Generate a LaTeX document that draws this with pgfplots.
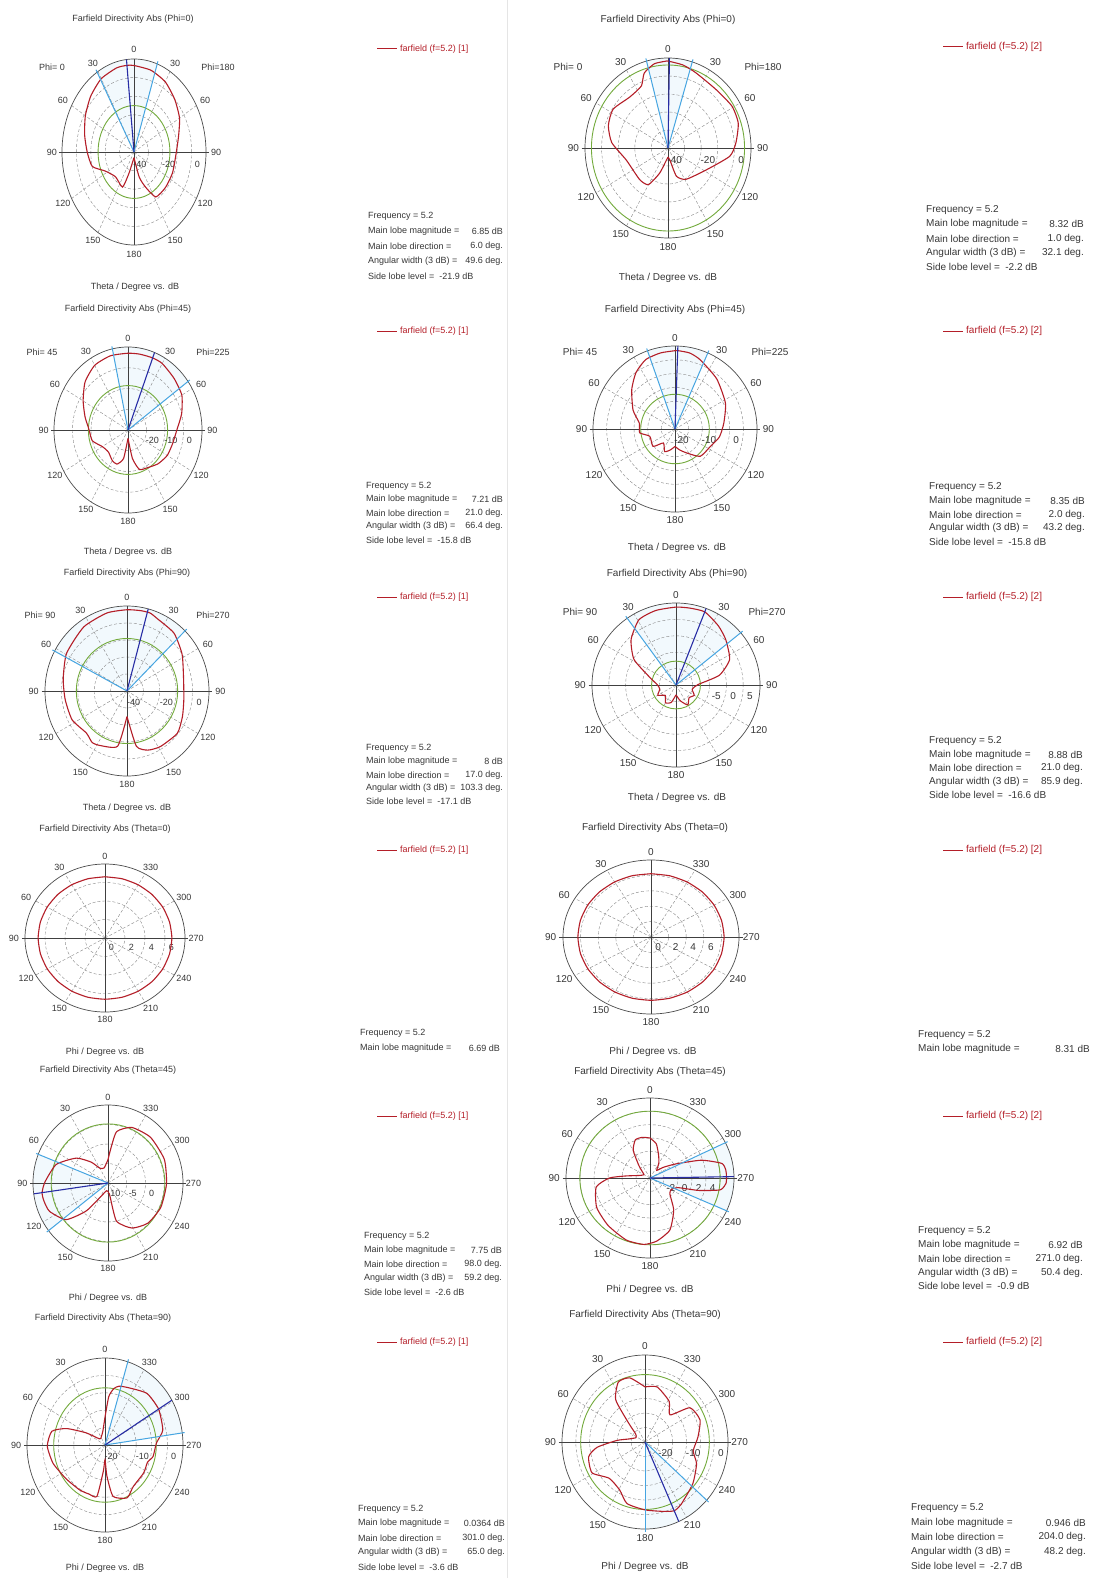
\documentclass[border=0pt]{standalone}
\usepackage{pgfplots}
\pgfplotsset{compat=1.18}
\usepackage{pgfplotstable}
\usepackage{fontspec}
\setmainfont{Liberation Sans}

\definecolor{cred}{RGB}{180,30,40}
\definecolor{cgreen}{RGB}{115,170,60}
\definecolor{cdblue}{RGB}{40,45,165}
\definecolor{clblue}{RGB}{70,165,225}
\definecolor{cgrid}{RGB}{135,135,135}
\definecolor{ctext}{RGB}{55,55,55}

% ---------------- data: a = angle (theta signed, + on left side / phi), d = dB
\pgfplotstableread{
a d
-180 -37
-165 -26
-157 -19.5
-148 -11.5
-131 -11
-113 -11
-95 -11
-75 -8
-60 -3.5
-45 0
-30 3.5
-15 5.5
0 6.5
6 6.85
15 6.8
30 5.5
45 2.5
60 -1
75 -4.5
90 -7.5
105 -10
117 -17.5
136 -21.5
157 -19.5
163 -28
180 -37
}\tA
\pgfplotstableread{
a d
-180 -35
-170 -33
-162 -23.5
-148 -19.5
-118 -14
-97 -2.5
-86 1
-72 4.5
-59 5
-42 3.5
-22 5
-11 7
0 8.3
1 8.32
10 7.5
19 4
25 -2
39 -3.5
57 -0.5
71 -2
85 -6
105 -14
136 -15.5
150 -16.5
160 -25
170 -32.5
180 -35
}\tB
\pgfplotstableread{
a d
-180 -26
-170 -16
-162 -10
-150 -9
-135 -7
-120 -5.5
-105 -5
-90 -3.6
-75 0
-60 3.6
-45 5.2
-30 7.0
-21 7.21
-10 7.1
0 7.0
15 7.0
30 6
45 2.8
60 -2
75 -6
90 -9
105 -10
120 -14
135 -15
150 -13
160 -12.5
170 -16
180 -26
}\tC
\pgfplotstableread{
a d
-180 -13.7
-167 -12.2
-154 -10.4
-137 -6.5
-116 -5.6
-100 -3.5
-83 -2
-63 0.7
-40 3.7
-20 6.7
-11 8
-2 8.35
0 8.3
11 8
23 7.3
35 4.9
48 1.3
66 -3.2
81 -6.8
96 -7
106 -10.4
128 -9.8
140 -13.4
155 -11
167 -12.2
180 -13.7
}\tD
\pgfplotstableread{
a d
-180 -25
-170 -7
-160 -3
-148 -1.5
-129 -0.5
-114 -3
-98 -5
-76 -4.5
-57 0
-40 4.5
-23 6.5
-17 8
-10 8
0 7.8
15 7.5
35 6
59 3
80 -0.5
98 -2
117 -2.5
135 -5
145 -3
153 -4
170 -7
180 -25
}\tE
\pgfplotstableread{
a d
-180 -12
-165 -10
-150 -8
-135 -9.5
-120 -8.75
-105 -10
-89 -8.5
-77 -1.75
-64 2.75
-47 5.25
-35 7
-21 8.88
-10 8.8
0 8.75
15 8.5
29 7.75
44 4.25
58 -0.25
72 -6.5
90 -9.5
105 -10
120 -8.75
135 -10.5
150 -8.75
165 -9.5
180 -12
}\tF
\pgfplotstableread{
a d
0 6.62
15 6.63
30 6.65
45 6.67
60 6.68
75 6.69
90 6.69
105 6.68
120 6.67
135 6.65
150 6.64
165 6.63
180 6.62
195 6.63
210 6.64
225 6.66
240 6.67
255 6.68
270 6.69
285 6.68
300 6.67
315 6.65
330 6.64
345 6.63
360 6.62
}\tG
\pgfplotstableread{
a d
0 8.22
15 8.24
30 8.26
45 8.28
60 8.30
75 8.31
90 8.31
105 8.30
120 8.28
135 8.26
150 8.24
165 8.23
180 8.22
195 8.23
210 8.25
225 8.27
240 8.29
255 8.30
270 8.31
285 8.30
300 8.28
315 8.26
330 8.24
345 8.23
360 8.22
}\tH
\pgfplotstableread{
a d
0 -4
15 -6
30 -5.6
40 -3
53 0.6
71 4.6
89 6.8
98 7.75
105 7.7
115 7.2
130 4.6
141 -0.8
155 -6.8
170 -8
188 -7
193 0
209 3.2
226 4.8
246 5.4
269 5.6
292 6.2
316 6.3
336 5.6
350 3.4
355 -1
360 -4
}\tI
\pgfplotstableread{
a d
0 2.0
10 2.2
20 2.1
30 0.8
40 -1.5
50 -2.6
60 -3
75 -2.5
85 -0.5
90 1.8
100 3.8
120 4.8
140 5.3
160 5.9
175 6.0
186 5.5
200 4.3
215 1.9
230 -0.3
240 -0.5
250 0.2
255 3.2
260 6.2
266 6.9
271 6.92
276 6.9
282 6.5
290 3.8
300 0.2
310 -1.5
320 -2.5
330 -1.5
340 -0.4
350 1.2
360 2.0
}\tJ
\pgfplotstableread{
a d
0 -12
10 -16
20 -17
30 -17.5
45 -17.5
60 -13
69 -6.8
77 -2.5
91 -1.5
107 -2.5
120 -3.75
129 -4.25
148 -4.75
160 -5
170 -5
176 -12.5
180 -15.75
184 -11
190 -5
205 -3.25
217 -5
237 -5.25
250 -5.5
258 -4.25
272 -3.5
283 -1
301 0.0364
318 0
337 -2
345 -2.5
350 -3.5
355 -6
360 -12
}\tK
\pgfplotstableread{
a d
0 -6
14 -2.2
25 -2.2
36 -7
42 -16
50 -20.5
65 -21.4
80 -19
87 -14.8
96 -7.6
104 -4
119 -3.1
134 -7
151 -6.1
163 -2.8
180 -1.6
196 -0.1
204 0.946
211 0.2
230 -2.5
248 -4.9
260 -7.3
275 -5.8
291 -3.7
306 -4.9
316 -12
328 -8.5
347 -5.5
360 -6
}\tL

\newcommand\cstX{-max(0,(\thisrow{d}-(\RMIN))/(\RMAX-(\RMIN)))*sin(\thisrow{a})}
\newcommand\cstY{max(0,(\thisrow{d}-(\RMIN))/(\RMAX-(\RMIN)))*cos(\thisrow{a})}

\def\THLAB{0/0,30/30,60/60,90/90,120/120,150/150,180/180,-30/30,-60/60,-90/90,-120/120,-150/150}
\def\PHLAB{0/0,30/30,60/60,90/90,120/120,150/150,180/180,210/210,240/240,270/270,300/300,330/330}
\def\curfont{\fontsize{9}{10.5}\selectfont}

% grid, shading, green level, labels (plain decoration around the axis)
\newcommand\cstgrid{%
 \begin{scope}[shift={(\CX,-\CY)}]
  \ifx\LA\empty\else
   \fill[clblue!7] (0,0) -- plot[domain=\LA:\LB,samples=25] ({-\RX*sin(\x)},{\RY*cos(\x)}) -- cycle;
  \fi
  \foreach \v in \RINGS {\pgfmathsetmacro\rr{(\v-(\RMIN))/(\RMAX-(\RMIN))}
    \draw[cgrid,densely dashed,line width=0.4pt] (0,0) ellipse [x radius={\rr*\RX}, y radius={\rr*\RY}];}
  \foreach \t in {30,60,120,150,210,240,300,330}
    \draw[cgrid,densely dashed,line width=0.4pt] (0,0) -- ({\RX*cos(\t)},{\RY*sin(\t)});
  \draw[black!75,line width=0.6pt] ({-1.04*\RX},0) -- ({1.04*\RX},0);
  \draw[black!75,line width=0.6pt] (0,{-\RY}) -- (0,{\RY});
  \draw[black!70,line width=0.7pt] (0,0) ellipse [x radius=\RX, y radius=\RY];
  \ifx\GDB\empty\else
   \pgfmathsetmacro\rr{(\GDB-(\RMIN))/(\RMAX-(\RMIN))}
   \draw[cgreen,line width=0.9pt] (0,0) ellipse [x radius={\rr*\RX}, y radius={\rr*\RY}];
  \fi
  \foreach \t/\l in \ALAB \node[lab] at ({-1.14*\RX*sin(\t)},{1.1*\RY*cos(\t)}) {\l};
  \foreach \v in \RLAB {\pgfmathsetmacro\rr{(\v-(\RMIN))/(\RMAX-(\RMIN))}
    \node[lab] at ({(\rr+0.08)*\RX},{-0.13*\RY}) {\v};}
 \end{scope}}

% data axis
\newcommand\cstdata[1]{%
 \pgfmathsetmacro\AW{2.5*\RX}\pgfmathsetmacro\AH{2.5*\RY}%
 \begin{axis}[at={(\CX pt,-\CY pt)},anchor=center,scale only axis,width=\AW pt,height=\AH pt,
   xmin=-1.25,xmax=1.25,ymin=-1.25,ymax=1.25,axis lines=none,clip=false]
  \addplot[cred,line width=1.1pt,smooth,tension=0.35] table[x expr=\cstX,y expr=\cstY]{#1};
  \ifx\MAIN\empty\else
   \pgfmathsetmacro\mx{-sin(\MAIN)}\pgfmathsetmacro\my{cos(\MAIN)}%
   \pgfmathsetmacro\ax{-1.03*sin(\LA)}\pgfmathsetmacro\ay{1.03*cos(\LA)}%
   \pgfmathsetmacro\bx{-1.03*sin(\LB)}\pgfmathsetmacro\by{1.03*cos(\LB)}%
   \edef\tmp{\noexpand\addplot[clblue,line width=1pt] coordinates {(0,0) (\ax,\ay)};
     \noexpand\addplot[clblue,line width=1pt] coordinates {(0,0) (\bx,\by)};
     \noexpand\addplot[cdblue,line width=1.1pt] coordinates {(0,0) (\mx,\my)};}%
   \tmp
  \fi
 \end{axis}}

\newcommand\legendat[3]{%
 \draw[cred,line width=1pt] (#1,-#2) -- ({#1+20},-#2);
 \node[lab,text=cred,anchor=west] at ({#1+23},-#2) {#3};}

\newcommand\info[8]{%
 \node[lab,anchor=west] at (#1,{-(#3)}) {Frequency = 5.2};
 \node[lab,anchor=west] at (#1,{-(#3+#4)}) {Main lobe magnitude =};
 \node[lab,anchor=east] at (#2,{-(#3+#4)}) {#5 dB};
 \node[lab,anchor=west] at (#1,{-(#3+2*#4)}) {Main lobe direction =};
 \node[lab,anchor=east] at (#2,{-(#3+2*#4)}) {#6 deg.};
 \node[lab,anchor=west] at (#1,{-(#3+3*#4)}) {Angular width (3 dB) =};
 \node[lab,anchor=east] at (#2,{-(#3+3*#4)}) {#7 deg.};
 \node[lab,anchor=west] at (#1,{-(#3+4*#4)}) {Side lobe level = \ #8 dB};}

\newcommand\infotwo[5]{%
 \node[lab,anchor=west] at (#1,{-(#3)}) {Frequency = 5.2};
 \node[lab,anchor=west] at (#1,{-(#3+#4)}) {Main lobe magnitude =};
 \node[lab,anchor=east] at (#2,{-(#3+#4)}) {#5 dB};}

\begin{document}
\begin{tikzpicture}[x=1pt,y=1pt,lab/.style={font=\curfont,text=ctext,inner sep=0pt}]
\fill[white] (0,0) rectangle (1095,-1578);
\path[use as bounding box] (0,0) rectangle (1095,-1578);
\draw[black!10,line width=0.6pt] (507,0) -- (507,-1578);

% ======================= LEFT COLUMN (font 9pt)
\def\curfont{\fontsize{9}{10.5}\selectfont}
% ---- Row 1 left: Phi=0 [1]
\def\CX{134}\def\CY{152}\def\RX{72}\def\RY{93}\def\RMIN{-40}\def\RMAX{10}
\def\RINGS{-30,-20,-10,0}\def\RLAB{-40,-20,0}\def\GDB{-15.05}
\def\MAIN{6}\def\LA{30.8}\def\LB{-18.8}\let\ALAB\THLAB
\cstgrid\cstdata{\tA}
\node[lab] at (133,-19) {Farfield Directivity Abs (Phi=0)};
\node[lab] at (52,-67) {Phi= 0};\node[lab] at (218,-67) {Phi=180};
\node[lab] at (135,-287) {Theta / Degree vs. dB};
\legendat{377}{49}{farfield (f=5.2) [1]}
\info{368}{503}{216}{15}{6.85}{6.0}{49.6}{-21.9}

% ---- Row 2 left: Phi=45 [1]
\def\CX{128}\def\CY{430}\def\RX{74}\def\RY{83}\def\RMIN{-30}\def\RMAX{10}
\def\RINGS{-20,-10,0}\def\RLAB{-20,-10,0}\def\GDB{-8.59}
\def\MAIN{-21}\def\LA{12.2}\def\LB{-54.2}\let\ALAB\THLAB
\cstgrid\cstdata{\tC}
\node[lab] at (128,-309) {Farfield Directivity Abs (Phi=45)};
\node[lab] at (42,-352) {Phi= 45};\node[lab] at (213,-352) {Phi=225};
\node[lab] at (128,-552) {Theta / Degree vs. dB};
\legendat{377}{331}{farfield (f=5.2) [1]}
\info{366}{503}{486}{13.5}{7.21}{21.0}{66.4}{-15.8}

% ---- Row 3 left: Phi=90 [1]
\def\CX{127}\def\CY{691}\def\RX{82}\def\RY{85}\def\RMIN{-40}\def\RMAX{10}
\def\RINGS{-30,-20,-10,0}\def\RLAB{-40,-20,0}\def\GDB{-9.1}
\def\MAIN{-15}\def\LA{62}\def\LB{-45}\let\ALAB\THLAB
\cstgrid\cstdata{\tE}
\node[lab] at (127,-573) {Farfield Directivity Abs (Phi=90)};
\node[lab] at (40,-615) {Phi= 90};\node[lab] at (213,-615) {Phi=270};
\node[lab] at (127,-808) {Theta / Degree vs. dB};
\legendat{377}{597}{farfield (f=5.2) [1]}
\info{366}{503}{748}{13.4}{8}{17.0}{103.3}{-17.1}

% ---- Row 4 left: Theta=0 [1]
\def\CX{105}\def\CY{938}\def\RX{80}\def\RY{74}\def\RMIN{0}\def\RMAX{8}
\def\RINGS{2,4,6}\def\RLAB{0,2,4,6}\def\GDB{}
\def\MAIN{}\def\LA{}\def\LB{}\let\ALAB\PHLAB
\cstgrid\cstdata{\tG}
\node[lab] at (105,-829) {Farfield Directivity Abs (Theta=0)};
\node[lab] at (105,-1052) {Phi / Degree vs. dB};
\legendat{377}{850}{farfield (f=5.2) [1]}
\infotwo{360}{500}{1033}{15.5}{6.69}

% ---- Row 5 left: Theta=45 [1]
\def\CX{108}\def\CY{1183}\def\RX{75}\def\RY{78}\def\RMIN{-10}\def\RMAX{10}
\def\RINGS{-5,0,5}\def\RLAB{-10,-5,0}\def\GDB{5.15}
\def\MAIN{98}\def\LA{68.4}\def\LB{127.6}\let\ALAB\PHLAB
\cstgrid\cstdata{\tI}
\node[lab] at (108,-1070) {Farfield Directivity Abs (Theta=45)};
\node[lab] at (108,-1298) {Phi / Degree vs. dB};
\legendat{377}{1116}{farfield (f=5.2) [1]}
\info{364}{502}{1236}{14}{7.75}{98.0}{59.2}{-2.6}

% ---- Row 6 left: Theta=90 [1]
\def\CX{105}\def\CY{1445}\def\RX{78}\def\RY{87}\def\RMIN{-20}\def\RMAX{5}
\def\RINGS{-15,-10,-5,0}\def\RLAB{-20,-10,0}\def\GDB{-3.56}
\def\MAIN{301}\def\LA{278}\def\LB{343}\let\ALAB\PHLAB
\cstgrid\cstdata{\tK}
\node[lab] at (103,-1318) {Farfield Directivity Abs (Theta=90)};
\node[lab] at (105,-1568) {Phi / Degree vs. dB};
\legendat{377}{1342}{farfield (f=5.2) [1]}
\info{358}{505}{1509}{14.5}{0.0364}{301.0}{65.0}{-3.6}

% ======================= RIGHT COLUMN (font 10pt)
\def\curfont{\fontsize{10}{11.5}\selectfont}
% ---- Row 1 right: Phi=0 [2]
\def\CX{668}\def\CY{148}\def\RX{83}\def\RY{90}\def\RMIN{-40}\def\RMAX{10}
\def\RINGS{-30,-20,-10,0}\def\RLAB{-40,-20,0}\def\GDB{6.12}
\def\MAIN{-1}\def\LA{15}\def\LB{-17}\let\ALAB\THLAB
\cstgrid\cstdata{\tB}
\node[lab] at (668,-20) {Farfield Directivity Abs (Phi=0)};
\node[lab] at (568,-67) {Phi= 0};\node[lab] at (763,-67) {Phi=180};
\node[lab] at (668,-278) {Theta / Degree vs. dB};
\legendat{943}{47}{farfield (f=5.2) [2]}
\info{926}{1084}{210}{14.3}{8.32}{1.0}{32.1}{-2.2}

% ---- Row 2 right: Phi=45 [2]
\def\CX{675}\def\CY{429}\def\RX{82}\def\RY{83}\def\RMIN{-20}\def\RMAX{10}
\def\RINGS{-15,-10,-5,0,5}\def\RLAB{-20,-10,0}\def\GDB{-7.45}
\def\MAIN{-2}\def\LA{19.6}\def\LB{-23.6}\let\ALAB\THLAB
\cstgrid\cstdata{\tD}
\node[lab] at (675,-310) {Farfield Directivity Abs (Phi=45)};
\node[lab] at (580,-352) {Phi= 45};\node[lab] at (770,-352) {Phi=225};
\node[lab] at (677,-548) {Theta / Degree vs. dB};
\legendat{943}{331}{farfield (f=5.2) [2]}
\info{929}{1085}{487}{13.8}{8.35}{2.0}{43.2}{-15.8}

% ---- Row 3 right: Phi=90 [2]
\def\CX{676}\def\CY{685}\def\RX{84}\def\RY{82}\def\RMIN{-15}\def\RMAX{10}
\def\RINGS{-10,-5,0,5}\def\RLAB{-5,0,5}\def\GDB{-7.72}
\def\MAIN{-21}\def\LA{35.5}\def\LB{-50.4}\let\ALAB\THLAB
\cstgrid\cstdata{\tF}
\node[lab] at (677,-574) {Farfield Directivity Abs (Phi=90)};
\node[lab] at (580,-612) {Phi= 90};\node[lab] at (767,-612) {Phi=270};
\node[lab] at (677,-798) {Theta / Degree vs. dB};
\legendat{943}{597}{farfield (f=5.2) [2]}
\info{929}{1083}{741}{13.6}{8.88}{21.0}{85.9}{-16.6}

% ---- Row 4 right: Theta=0 [2]
\def\CX{651}\def\CY{937}\def\RX{88}\def\RY{77}\def\RMIN{0}\def\RMAX{10}
\def\RINGS{2,4,6,8}\def\RLAB{0,2,4,6}\def\GDB{}
\def\MAIN{}\def\LA{}\def\LB{}\let\ALAB\PHLAB
\cstgrid\cstdata{\tH}
\node[lab] at (655,-828) {Farfield Directivity Abs (Theta=0)};
\node[lab] at (653,-1052) {Phi / Degree vs. dB};
\legendat{943}{850}{farfield (f=5.2) [2]}
\infotwo{918}{1090}{1035}{14}{8.31}

% ---- Row 5 right: Theta=45 [2]
\def\CX{650}\def\CY{1178}\def\RX{84}\def\RY{80}\def\RMIN{-4}\def\RMAX{8}
\def\RINGS{-2,0,2,4,6}\def\RLAB{-2,0,2,4}\def\GDB{6.02}
\def\MAIN{271}\def\LA{245.8}\def\LB{296.2}\let\ALAB\PHLAB
\cstgrid\cstdata{\tJ}
\node[lab] at (650,-1072) {Farfield Directivity Abs (Theta=45)};
\node[lab] at (650,-1290) {Phi / Degree vs. dB};
\legendat{943}{1116}{farfield (f=5.2) [2]}
\info{918}{1083}{1231}{13.8}{6.92}{271.0}{50.4}{-0.9}

% ---- Row 6 right: Theta=90 [2]
\def\CX{645}\def\CY{1442}\def\RX{83}\def\RY{87}\def\RMIN{-25}\def\RMAX{5}
\def\RINGS{-20,-15,-10,-5,0}\def\RLAB{-20,-10,0}\def\GDB{-1.75}
\def\MAIN{204}\def\LA{180}\def\LB{228}\let\ALAB\PHLAB
\cstgrid\cstdata{\tL}
\node[lab] at (645,-1315) {Farfield Directivity Abs (Theta=90)};
\node[lab] at (645,-1567) {Phi / Degree vs. dB};
\legendat{943}{1342}{farfield (f=5.2) [2]}
\info{911}{1086}{1508}{14.5}{0.946}{204.0}{48.2}{-2.7}
\end{tikzpicture}
\end{document}
